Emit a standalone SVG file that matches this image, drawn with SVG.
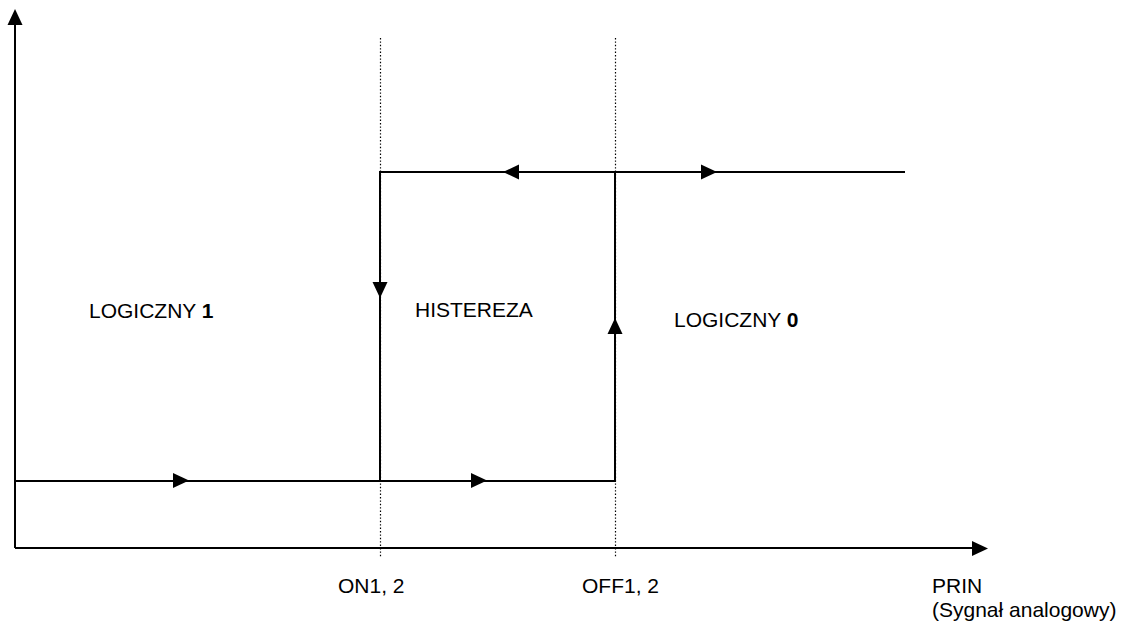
<svg xmlns="http://www.w3.org/2000/svg" width="1122" height="624" viewBox="0 0 1122 624">
  <style>
    .ln { stroke: #000; stroke-width: 2; fill: none; }
    .dot { stroke: #000; stroke-width: 1.2; stroke-dasharray: 1.4 2; fill: none; }
    .lbl { font-family: "Liberation Sans", Arial, sans-serif; font-size: 21px; fill: #000; }
    .head { fill: #000; }
  </style>
  <defs>
    <!-- solid triangle pointing right, tip at origin -->
    <path id="tri" d="M0 0 L-16 -7.5 L-16 7.5 Z"/>
  </defs>
  <rect width="1122" height="624" fill="#fff"/>

  <!-- axes -->
  <g id="axes">
    <line class="ln" x1="15" y1="548" x2="15" y2="22"/>
    <use href="#tri" class="head" transform="translate(15 9) rotate(-90)"/>
    <line class="ln" x1="15" y1="548" x2="975" y2="548"/>
    <use href="#tri" class="head" transform="translate(988 548.5)"/>
  </g>

  <!-- threshold guides -->
  <g id="guides">
    <line class="dot" x1="380.5" y1="38" x2="380.5" y2="557"/>
    <line class="dot" x1="615.5" y1="38" x2="615.5" y2="557"/>
  </g>

  <!-- hysteresis loop -->
  <g id="connectors">
    <polyline class="ln" points="15,481 615,481 615,172"/>
    <polyline class="ln" points="905,172 380,172 380,481"/>
    <use href="#tri" class="head" transform="translate(189 480.5)"/>
    <use href="#tri" class="head" transform="translate(487 480.5)"/>
    <use href="#tri" class="head" transform="translate(380 298) rotate(90)"/>
    <use href="#tri" class="head" transform="translate(615 318) rotate(-90)"/>
    <use href="#tri" class="head" transform="translate(503 172) rotate(180)"/>
    <use href="#tri" class="head" transform="translate(717 172)"/>
  </g>

  <!-- region labels -->
  <g id="region-on">
    <text class="lbl" x="89" y="318">LOGICZNY <tspan font-weight="bold">1</tspan></text>
  </g>
  <g id="region-hyst">
    <text class="lbl" x="415" y="317">HISTEREZA</text>
  </g>
  <g id="region-off">
    <text class="lbl" x="674" y="327">LOGICZNY <tspan font-weight="bold">0</tspan></text>
  </g>

  <!-- axis labels -->
  <g id="tick-on">
    <text class="lbl" x="338" y="593">ON1, 2</text>
  </g>
  <g id="tick-off">
    <text class="lbl" x="582" y="593">OFF1, 2</text>
  </g>
  <g id="x-label">
    <text class="lbl" x="932" y="593">PRIN</text>
    <text class="lbl" x="932" y="617">(Sygnał analogowy)</text>
  </g>
</svg>
